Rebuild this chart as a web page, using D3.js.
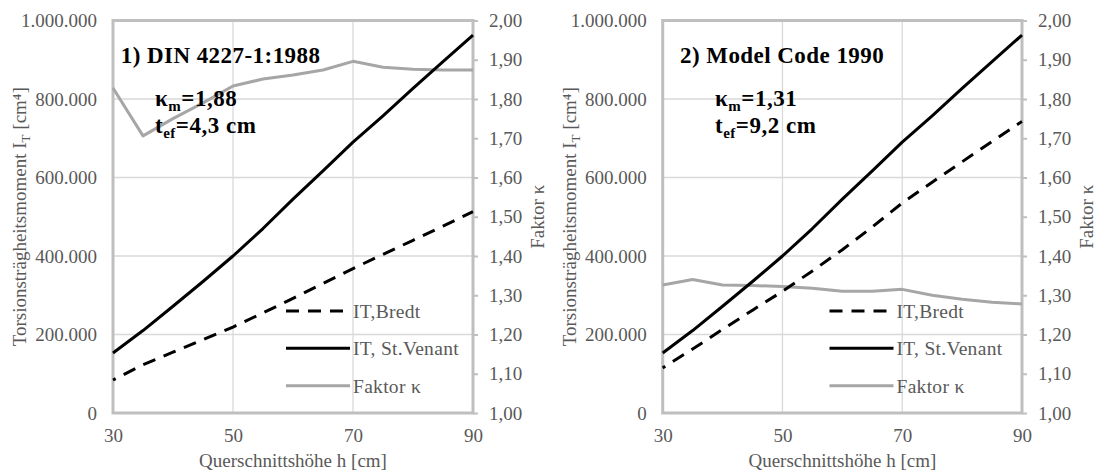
<!DOCTYPE html>
<html>
<head>
<meta charset="utf-8">
<script src="https://cdn.jsdelivr.net/npm/d3@7"></script>
<style>
  html, body { margin: 0; padding: 0; background: #fff; }
  svg { display: block; }
  svg text { font-family: "Liberation Serif", "Times New Roman", Times, "DejaVu Serif", serif; }
</style>
</head>
<body>
<svg id="chart" width="1096" height="475"></svg>
<script>
// Cross-section height h [cm]
const heights = [30, 35, 40, 45, 50, 55, 60, 65, 70, 75, 80, 85, 90];

// Torsional moment of inertia after St. Venant [cm^4] (same in both panels)
const itStVenant = [153000, 210000, 272000, 335000, 400000, 470000, 545000, 617000, 690000, 757000, 827000, 895000, 963000];

// Panel 1: DIN 4227-1:1988
const itBredtDin = [84000, 123000, 155000, 187000, 219000, 255000, 292000, 330000, 368000, 404000, 440000, 476000, 513000];
const kappaDin = [1.828, 1.706, 1.750, 1.790, 1.833, 1.851, 1.861, 1.874, 1.896, 1.881, 1.876, 1.874, 1.874];

// Panel 2: Model Code 1990
const itBredtMc = [115000, 163000, 213000, 262000, 310000, 362000, 416000, 474000, 535000, 588000, 640000, 692000, 743000];
const kappaMc = [1.326, 1.340, 1.326, 1.325, 1.322, 1.318, 1.310, 1.310, 1.315, 1.300, 1.290, 1.282, 1.278];

// Axis ticks
const xTicks = [30, 50, 70, 90];
const itTicks = [0, 200000, 400000, 600000, 800000, 1000000];
const kappaTicks = [1.0, 1.1, 1.2, 1.3, 1.4, 1.5, 1.6, 1.7, 1.8, 1.9, 2.0];

// Panel annotations and legend labels
const panelTitles = ["1) DIN 4227-1:1988", "2) Model Code 1990"];
const kappaMean = ["1,88", "1,31"];
const tEff = ["4,3 cm", "9,2 cm"];
const legendLabels = ["IT,Bredt", "IT, St.Venant", "Faktor κ"];

const de = d3.formatLocale({ decimal: ",", thousands: ".", grouping: [3], currency: ["", " €"] });
const fmtIT = de.format(",.0f");
const fmtK = de.format(".2f");

const SERIF = "'Liberation Serif', 'Times New Roman', Times, 'DejaVu Serif', serif";
const GRAY_TEXT = "#595959";
const FRAME = "#bfbfbf";
const GRID = "#d9d9d9";
const KAPPA_COL = "#a6a6a6";
const FS = 19;

const svg = d3.select("#chart").attr("font-family", SERIF);

const panels = [
  { left: 113, right: 473, bredt: itBredtDin, kappa: kappaDin, legendX: 286, titleDx: 7.7, noteDx: 42 },
  { left: 662.7, right: 1022, bredt: itBredtMc, kappa: kappaMc, legendX: 829.5, titleDx: 17.3, noteDx: 52.3 }
];
const plotTop = 20.5, plotBottom = 413;

panels.forEach((p, i) => {
  const g = svg.append("g");
  const x = d3.scaleLinear().domain([30, 90]).range([p.left, p.right]);
  const y = d3.scaleLinear().domain([0, 1000000]).range([plotBottom, plotTop]);
  const yk = d3.scaleLinear().domain([1, 2]).range([plotBottom, plotTop]);

  // gridlines
  g.append("g").selectAll("line").data(itTicks.slice(1, -1)).join("line")
    .attr("x1", p.left).attr("x2", p.right)
    .attr("y1", d => y(d)).attr("y2", d => y(d))
    .attr("stroke", GRID).attr("stroke-width", 1.3);
  g.append("g").selectAll("line").data(xTicks.slice(1, -1)).join("line")
    .attr("y1", plotTop).attr("y2", plotBottom)
    .attr("x1", d => x(d)).attr("x2", d => x(d))
    .attr("stroke", GRID).attr("stroke-width", 1.3);

  // axes
  const ax = g.append("g").attr("transform", `translate(${p.left},0)`)
    .call(d3.axisLeft(y).tickValues(itTicks).tickFormat(fmtIT).tickSize(0).tickPadding(16));
  const axR = g.append("g").attr("transform", `translate(${p.right},0)`)
    .call(d3.axisRight(yk).tickValues(kappaTicks).tickFormat(fmtK).tickSize(5).tickPadding(11));
  const axB = g.append("g").attr("transform", `translate(0,${plotBottom})`)
    .call(d3.axisBottom(x).tickValues(xTicks).tickFormat(d3.format("d")).tickSize(0).tickPadding(16));
  [ax, axR, axB].forEach(a => {
    a.attr("font-family", SERIF).attr("font-size", FS);
    a.select(".domain").remove();
    a.selectAll("text").attr("fill", GRAY_TEXT);
    a.selectAll("line").attr("stroke", FRAME).attr("stroke-width", 2);
  });

  // plot frame
  g.append("rect").attr("x", p.left).attr("y", plotTop)
    .attr("width", p.right - p.left).attr("height", plotBottom - plotTop)
    .attr("fill", "none").attr("stroke", FRAME).attr("stroke-width", 3);

  const lineIT = d3.line().x((d, j) => x(heights[j])).y(d => y(d));
  const lineK = d3.line().x((d, j) => x(heights[j])).y(d => yk(d));

  g.append("path").datum(p.kappa).attr("d", lineK)
    .attr("fill", "none").attr("stroke", KAPPA_COL).attr("stroke-width", 3)
    .attr("stroke-linejoin", "round");
  g.append("path").datum(p.bredt).attr("d", lineIT)
    .attr("fill", "none").attr("stroke", "#000").attr("stroke-width", 3)
    .attr("stroke-dasharray", "13,9").attr("stroke-dashoffset", 10);
  g.append("path").datum(itStVenant).attr("d", lineIT)
    .attr("fill", "none").attr("stroke", "#000").attr("stroke-width", 3)
    .attr("stroke-linejoin", "round");

  // legend
  const legY = [311, 348.3, 385.7];
  const legStyles = [
    { stroke: "#000", dash: "13,9" },
    { stroke: "#000", dash: null },
    { stroke: KAPPA_COL, dash: null }
  ];
  legendLabels.forEach((lab, k) => {
    g.append("line").attr("x1", p.legendX).attr("x2", p.legendX + 64)
      .attr("y1", legY[k]).attr("y2", legY[k])
      .attr("stroke", legStyles[k].stroke).attr("stroke-width", 3)
      .attr("stroke-dasharray", legStyles[k].dash);
    g.append("text").attr("x", p.legendX + 67).attr("y", legY[k]).attr("dy", "0.35em")
      .attr("font-size", 19.5).attr("letter-spacing", 0.3).attr("fill", GRAY_TEXT).text(lab);
  });

  // panel title and annotations
  g.append("text").attr("x", p.left + p.titleDx).attr("y", 63.3)
    .attr("font-size", 23).attr("letter-spacing", 0.45).attr("font-weight", "bold").attr("fill", "#000")
    .text(panelTitles[i]);
  const km = g.append("text").attr("x", p.left + p.noteDx).attr("y", 106)
    .attr("font-size", 23).attr("letter-spacing", 0.5).attr("font-weight", "bold").attr("fill", "#000");
  km.append("tspan").text("κ");
  km.append("tspan").attr("font-size", 15).attr("dy", 5).text("m");
  km.append("tspan").attr("dy", -5).text("=" + kappaMean[i]);
  const te = g.append("text").attr("x", p.left + p.noteDx).attr("y", 133)
    .attr("font-size", 23).attr("letter-spacing", 0.5).attr("font-weight", "bold").attr("fill", "#000");
  te.append("tspan").text("t");
  te.append("tspan").attr("font-size", 15).attr("dy", 5).text("ef");
  te.append("tspan").attr("dy", -5).text("=" + tEff[i]);

  // axis titles
  const cy = (plotTop + plotBottom) / 2;
  const lt = g.append("text")
    .attr("transform", `translate(${p.left - 87},${cy}) rotate(-90)`)
    .attr("text-anchor", "middle").attr("font-size", FS).attr("fill", GRAY_TEXT);
  lt.append("tspan").text("Torsionsträgheitsmoment I");
  lt.append("tspan").attr("font-size", 13).attr("dy", 4).text("T");
  lt.append("tspan").attr("dy", -4).text(" [cm⁴]");

  g.append("text")
    .attr("transform", `translate(${p.right + 71},${cy}) rotate(-90)`)
    .attr("text-anchor", "middle").attr("font-size", FS).attr("fill", GRAY_TEXT)
    .text("Faktor κ");

  g.append("text").attr("x", (p.left + p.right) / 2).attr("y", 467)
    .attr("text-anchor", "middle").attr("font-size", FS).attr("fill", GRAY_TEXT)
    .text("Querschnittshöhe h [cm]");
});
</script>
</body>
</html>
